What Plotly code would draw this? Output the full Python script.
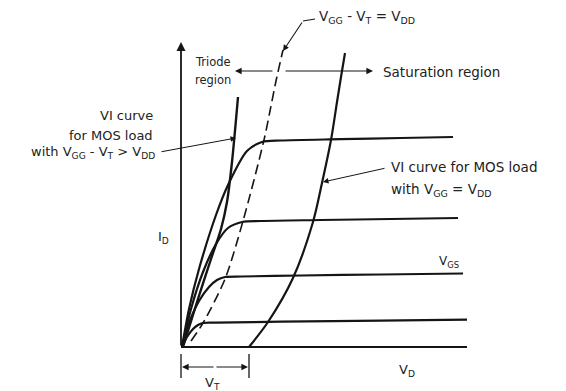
import plotly.graph_objects as go

# Output-characteristic sketch of an enhancement MOSFET (I_D versus V_D),
# drawn in arbitrary units: 1 unit on either axis = 1 screen pixel.

# --- family of drain curves (one per gate drive V_GS) ---
vd_curve1 = [1, 8, 18, 35, 47, 66, 81, 100, 160, 220, 272]
id_curve1 = [0, 38, 78, 132, 162, 196, 205, 206.5, 207.8, 209, 210]

vd_curve2 = [1, 10, 22, 35, 47, 61, 80, 140, 210, 277]
id_curve2 = [0, 38, 75, 103, 119, 125, 126, 127, 128, 129]

vd_curve3 = [1, 8, 18, 28, 36, 44, 60, 120, 200, 282]
id_curve3 = [0, 24, 46, 60, 67, 70, 70.5, 71.5, 72.5, 73.5]

vd_curve4 = [1, 6, 12, 17, 22, 35, 100, 200, 286]
id_curve4 = [0, 10, 18, 22, 24, 24.3, 25.3, 26.3, 27.3]

# --- triode / saturation boundary  (V_GG - V_T = V_DD) ---
vd_boundary = [10, 22, 44, 62, 83, 89, 95, 102]
id_boundary = [6, 24, 68, 126, 207, 236, 266, 297]

# --- load curve for MOS load with V_GG - V_T > V_DD ---
vd_load_lin = [2, 16, 30, 40, 46, 51, 57]
id_load_lin = [0, 45, 88, 118, 145, 185, 250]

# --- load curve for MOS load with V_GG = V_DD (starts at V_T) ---
vd_load_sat = [68, 87, 112, 132, 141, 150, 156, 160, 164]
id_load_sat = [0, 25, 69, 125, 164, 207, 245, 270, 294]

VT = 68          # threshold voltage on the V_D axis
VD_END = 286     # extent of the V_D axis line
ID_TOP = 305     # tip of the I_D axis arrow

INK = "#151515"
FONT = "DejaVu Sans"

fig = go.Figure()

def curve(x, y, width=2.2, dash="solid"):
    fig.add_trace(go.Scatter(
        x=x, y=y, mode="lines",
        line=dict(color=INK, width=width, dash=dash, shape="spline", smoothing=0.8),
        hoverinfo="skip", showlegend=False))

for vx, iy in [(vd_curve1, id_curve1), (vd_curve2, id_curve2),
               (vd_curve3, id_curve3), (vd_curve4, id_curve4)]:
    curve(vx, iy)

curve(vd_load_lin, id_load_lin, width=2.4)
curve(vd_load_sat, id_load_sat, width=2.2)
curve(vd_boundary, id_boundary, width=1.6, dash="10px,5px")

# V_D axis
fig.add_shape(type="line", x0=0, y0=0, x1=VD_END, y1=0,
              line=dict(color=INK, width=1.8))

def arrow(x0, y0, x1, y1, width=1.2, size=1.1):
    fig.add_annotation(x=x1, y=y1, ax=x0, ay=y0, xref="x", yref="y",
                       axref="x", ayref="y", text="", showarrow=True,
                       arrowhead=2, arrowsize=size, arrowwidth=width,
                       arrowcolor=INK, standoff=0, startstandoff=0)

# I_D axis with arrow
arrow(0, 0, 0, ID_TOP, width=1.8, size=1.0)

# Triode / saturation region arrows
arrow(93, 276, 54, 276)
arrow(103, 276, 192, 276)

# V_T dimension
for xv in (0, VT):
    fig.add_shape(type="line", x0=xv, y0=-7, x1=xv, y1=-31,
                  line=dict(color=INK, width=1.3))
arrow(34, -20, 1, -20)
arrow(34, -20, VT - 1, -20)

# Leaders
fig.add_shape(type="line", x0=134, y0=328, x1=122, y1=326,
              line=dict(color=INK, width=1.1))
arrow(122, 326, 102, 296, width=1.1)
arrow(-21, 195, 55, 209, width=1.0)
arrow(205, 179, 142, 165, width=1.0)

def label(x, y, text, anchor="left", size=13):
    fig.add_annotation(x=x, y=y, xref="x", yref="y", text=text,
                       showarrow=False, xanchor=anchor, yanchor="middle",
                       font=dict(family=FONT, size=size, color="#222"))

label(12, 285, "Triode", size=11.5)
label(12, 267, "region", size=11.5)
label(200, 275, "Saturation region", size=13.5)
label(136, 330, "V<sub>GG</sub> - V<sub>T</sub> = V<sub>DD</sub>", size=13.5)
label(-26, 232, "VI curve", anchor="right", size=13)
label(-26, 212, "for MOS load", anchor="right", size=13)
label(-24, 195, "with V<sub>GG</sub> - V<sub>T</sub> > V<sub>DD</sub>", anchor="right", size=13)
label(208, 180, "VI curve for MOS load", size=13.5)
label(208, 157, "with V<sub>GG</sub> = V<sub>DD</sub>", size=13.5)
label(256, 85, "V<sub>GS</sub>", size=12)
label(-18, 110, "I<sub>D</sub>", anchor="center", size=13)
label(226, -23, "V<sub>D</sub>", anchor="center", size=13)
label(31, -36, "V<sub>T</sub>", anchor="center", size=13)

fig.update_layout(
    width=566, height=391,
    margin=dict(l=0, r=0, t=0, b=0),
    paper_bgcolor="white", plot_bgcolor="white",
    xaxis=dict(range=[-181, 385], visible=False, fixedrange=True),
    yaxis=dict(range=[-44, 347], visible=False, fixedrange=True),
    showlegend=False,
)

fig.write_html("out.html")
